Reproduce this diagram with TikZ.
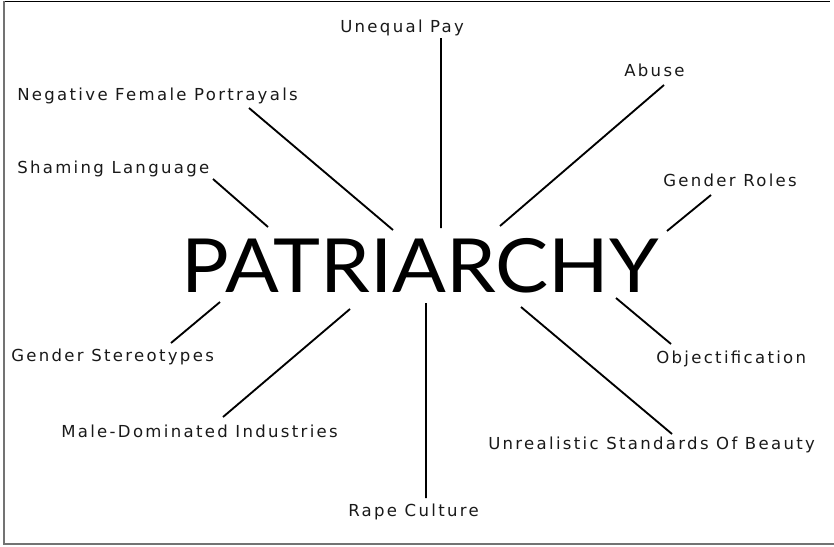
\documentclass[tikz,border=0pt]{standalone}
\usepackage{fontspec}
\newfontfamily\lblfont[LetterSpace=14]{DejaVu Sans}
\newfontfamily\hubfont{Lato}
\tikzset{
	lbl/.style={anchor=base west,inner sep=0pt,font=\lblfont\fontsize{12.4}{14}\selectfont,text=black!90},
	spoke/.style={line width=1.4pt,line cap=butt},
}
\begin{document}
\begin{tikzpicture}[x=0.75pt,y=-0.75pt]
		\useasboundingbox (0,0) rectangle (834,546) ;
		\draw[line width=1.1pt] (3,1.5)--(830,1.5) ;
		\draw[line width=1.5pt,black!55] (3.5,1)--(3.5,543.5)--(834,543.5) ;
		\node[anchor=base west,inner sep=0pt,xscale=1.065,font=\hubfont\fontsize{56}{60}\selectfont] (hub) at (181,292) {PATRIARCHY} ;
		\node[lbl] (pay) at (340,32) {Unequal Pay} ;
		\node[lbl] (abuse) at (624,76) {Abuse} ;
		\node[lbl] (neg) at (17,100) {Negative Female Portrayals} ;
		\node[lbl] (shame) at (17,173) {Shaming Language} ;
		\node[lbl] (roles) at (663,186) {Gender Roles} ;
		\node[lbl] (stereo) at (11,361) {Gender Stereotypes} ;
		\node[lbl] (object) at (656,363) {Objectification} ;
		\node[lbl] (male) at (61,437) {Male-Dominated Industries} ;
		\node[lbl] (beauty) at (488,449) {Unrealistic Standards Of Beauty} ;
		\node[lbl] (rape) at (348,516) {Rape Culture} ;
		\coordinate (pay1) at (441,38) ; \coordinate (pay2) at (441,228) ;
		\coordinate (abuse1) at (664,85) ; \coordinate (abuse2) at (500,226) ;
		\coordinate (roles1) at (711,195) ; \coordinate (roles2) at (667,231) ;
		\coordinate (neg1) at (249,108) ; \coordinate (neg2) at (393,230) ;
		\coordinate (shame1) at (213,179) ; \coordinate (shame2) at (268,227) ;
		\coordinate (stereo1) at (171,343) ; \coordinate (stereo2) at (220,302) ;
		\coordinate (male1) at (223,417) ; \coordinate (male2) at (350,309) ;
		\coordinate (rape1) at (426,498) ; \coordinate (rape2) at (426,303) ;
		\coordinate (beauty1) at (672,434) ; \coordinate (beauty2) at (521,307) ;
		\coordinate (object1) at (671,344) ; \coordinate (object2) at (616,298) ;
		\draw[spoke] (pay1)--(pay2) (abuse1)--(abuse2) (roles1)--(roles2) ;
		\draw[spoke] (neg1)--(neg2) (shame1)--(shame2) ;
		\draw[spoke] (stereo1)--(stereo2) (male1)--(male2) (rape1)--(rape2) ;
		\draw[spoke] (beauty1)--(beauty2) (object1)--(object2) ;
	\end{tikzpicture}
\end{document}
